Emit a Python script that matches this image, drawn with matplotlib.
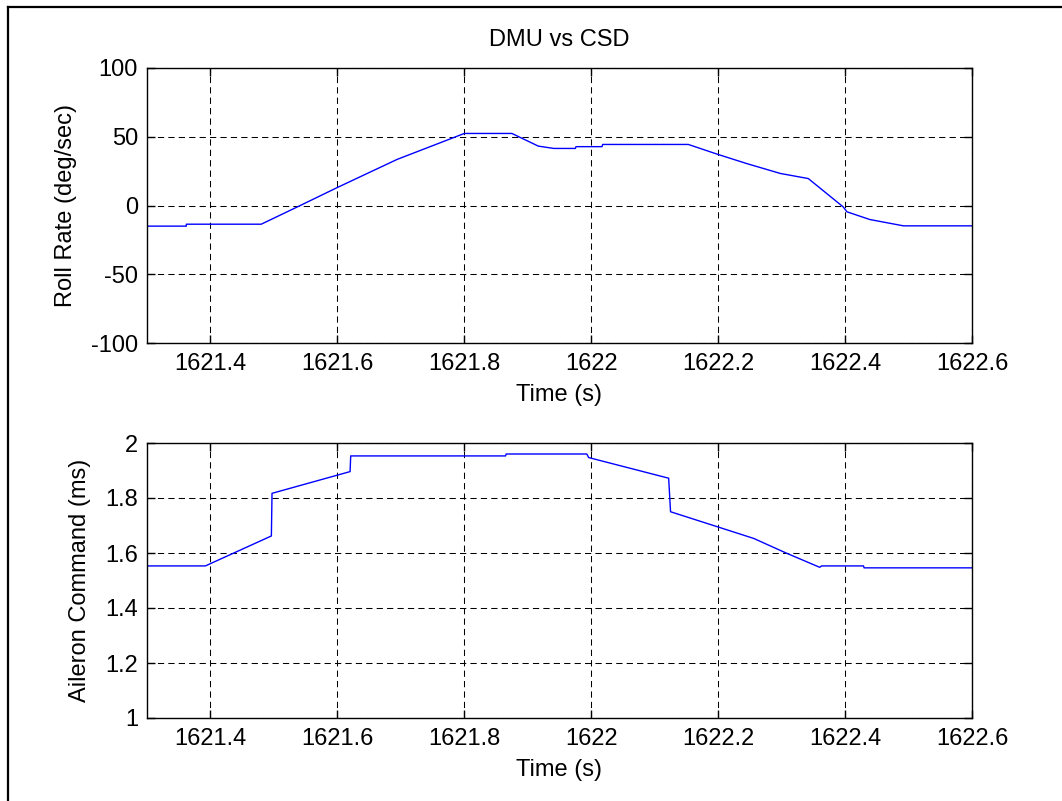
import matplotlib
matplotlib.use("Agg")
import matplotlib.pyplot as plt
from matplotlib.lines import Line2D

# ---- data ----
roll_t = [1621.300, 1621.362, 1621.362, 1621.480, 1621.537, 1621.600, 1621.694,
          1621.800, 1621.875, 1621.917, 1621.918, 1621.941, 1621.975, 1621.976,
          1622.017, 1622.018, 1622.153, 1622.200, 1622.245, 1622.298, 1622.342,
          1622.397, 1622.403, 1622.439, 1622.492, 1622.600]
roll_v = [-15.0, -15.0, -13.6, -13.6, -1.0, 13.1, 33.5,
          52.4, 52.4, 43.1, 43.1, 41.5, 41.5, 42.8,
          42.8, 44.4, 44.4, 37.1, 30.5, 23.3, 19.6,
          -1.0, -4.6, -10.2, -14.8, -14.8]

ail_t = [1621.300, 1621.392, 1621.496, 1621.497, 1621.620, 1621.621, 1621.865,
         1621.866, 1621.993, 1621.996, 1622.122, 1622.125, 1622.198, 1622.256,
         1622.308, 1622.360, 1622.363, 1622.429, 1622.430, 1622.600]
ail_v = [1.553, 1.553, 1.662, 1.817, 1.896, 1.953, 1.953,
         1.960, 1.960, 1.947, 1.872, 1.750, 1.696, 1.653,
         1.599, 1.548, 1.553, 1.553, 1.546, 1.546]

x_ticks = [1621.4, 1621.6, 1621.8, 1622.0, 1622.2, 1622.4, 1622.6]
x_ticklabels = ["1621.4", "1621.6", "1621.8", "1622", "1622.2", "1622.4", "1622.6"]
roll_ticks = [-100, -50, 0, 50, 100]
ail_ticks = [1, 1.2, 1.4, 1.6, 1.8, 2]
ail_ticklabels = ["1", "1.2", "1.4", "1.6", "1.8", "2"]

plt.rcParams['font.family'] = ['Liberation Sans', 'DejaVu Sans']
plt.rcParams['axes.unicode_minus'] = False
FS = 17

fig = plt.figure(figsize=(10.62, 8.01), dpi=100)
fig.patch.set_facecolor('white')

W, H = 1062.0, 801.0
left = 147 / W
width = (972 - 147) / W
ax1 = fig.add_axes([left, 1 - 343 / H, width, 275 / H])
ax2 = fig.add_axes([left, 1 - 718 / H, width, 275 / H])

def style(ax):
    ax.set_xlim(1621.3, 1622.6)
    ax.set_xticks(x_ticks)
    ax.set_xticklabels(x_ticklabels)
    ax.tick_params(direction='in', length=6, width=1.0, top=True, right=True,
                   labelsize=FS, pad=7, colors='black')
    ax.tick_params(axis='y', pad=6.5)
    ax.grid(True, color='black', linestyle=(0, (6, 4)), linewidth=0.75)
    for s in ax.spines.values():
        s.set_linewidth(1.0)
        s.set_color('black')
    ax.set_xlabel("Time (s)", fontsize=FS, labelpad=7)

ax1.plot(roll_t, roll_v, color=(0, 0, 1), linewidth=1.0)
style(ax1)
ax1.set_ylim(-100, 100)
ax1.set_yticks(roll_ticks)
ax1.set_yticklabels([str(v) for v in roll_ticks])
ax1.set_ylabel("Roll Rate (deg/sec)", fontsize=FS, labelpad=10)
ax1.set_title("DMU vs CSD", fontsize=FS, pad=16)

ax2.plot(ail_t, ail_v, color=(0, 0, 1), linewidth=1.0)
style(ax2)
ax2.set_ylim(1, 2)
ax2.set_yticks(ail_ticks)
ax2.set_yticklabels(ail_ticklabels)
ax2.set_ylabel("Aileron Command (ms)", fontsize=FS, labelpad=10)

# figure border (top and left edges)
fig.add_artist(Line2D([7.5 / W, 1.0], [1 - 6.5 / H, 1 - 6.5 / H],
                      transform=fig.transFigure, color='black', linewidth=1.6))
fig.add_artist(Line2D([7.5 / W, 7.5 / W], [0.0, 1 - 6.5 / H],
                      transform=fig.transFigure, color='black', linewidth=1.6))

fig.savefig("out.png", dpi=100, facecolor='white')
